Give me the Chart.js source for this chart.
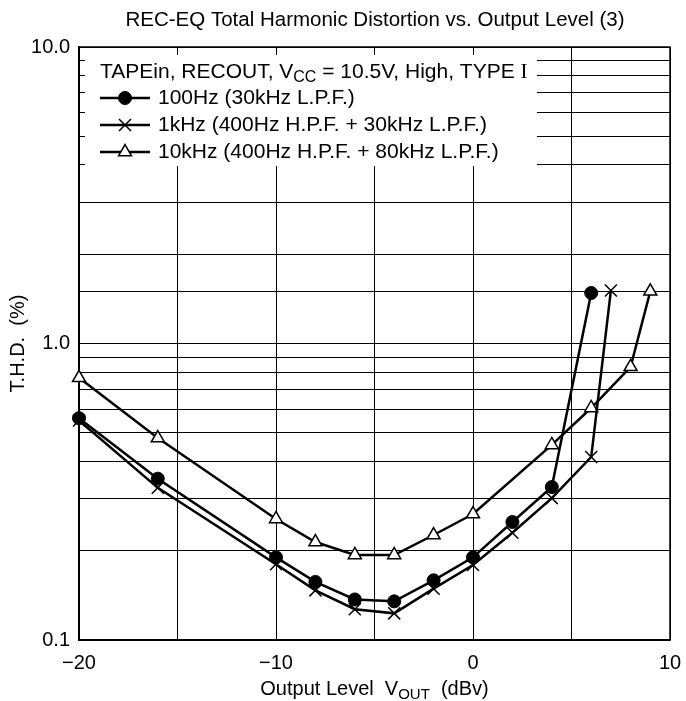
<!DOCTYPE html>
<html>
<head>
<meta charset="utf-8">
<script src="https://cdn.jsdelivr.net/npm/chart.js@4"></script>
<style>
  html, body { margin: 0; padding: 0; background: #fff; }
  #wrap { width: 686px; height: 701px; }
</style>
</head>
<body>
<div id="wrap"><canvas id="thdChart" width="686" height="701"></canvas></div>
<script>
// output level (dBv) and THD (%)
const levels100 = [-20, -16, -10, -8, -6, -4, -2, 0, 2, 4, 6];
const thd100 = [0.56, 0.35, 0.19, 0.157, 0.137, 0.135, 0.159, 0.19, 0.25, 0.328, 1.48];

const levels1k = [-20, -16, -10, -8, -6, -4, -2, 0, 2, 4, 6, 7];
const thd1k = [0.55, 0.326, 0.18, 0.147, 0.127, 0.123, 0.149, 0.179, 0.23, 0.301, 0.414, 1.51];

const levels10k = [-20, -16, -10, -8, -6, -4, -2, 0, 4, 6, 8, 9];
const thd10k = [0.766, 0.48, 0.256, 0.214, 0.1935, 0.1935, 0.226, 0.266, 0.455, 0.606, 0.834, 1.5];

const seriesNames = ['100Hz (30kHz L.P.F.)', '1kHz (400Hz H.P.F. + 30kHz L.P.F.)', '10kHz (400Hz H.P.F. + 80kHz L.P.F.)'];
const xLabelTicks = [-20, -10, 0, 10];
const yLabelTicks = [0.1, 1, 10];

const FONT = 'Liberation Sans, Arial, sans-serif';

function toPoints(xs, ys) {
  return xs.map((x, i) => ({ x: x, y: ys[i] }));
}

const markerStyles = [
  { pointStyle: 'circle', radius: 6.5, bg: '#000', bw: 1 },
  { pointStyle: 'crossRot', radius: 8.5, bg: '#000', bw: 1.5 },
  { pointStyle: 'triangle', radius: 7.5, bg: '#fff', bw: 1.5 }
];

function makeDataset(i, xs, ys) {
  const m = markerStyles[i];
  return {
    label: seriesNames[i],
    data: toPoints(xs, ys),
    borderColor: '#000',
    borderWidth: 2.5,
    pointStyle: m.pointStyle,
    pointRadius: m.radius,
    pointBackgroundColor: m.bg,
    pointBorderColor: '#000',
    pointBorderWidth: m.bw,
    tension: 0,
    clip: false
  };
}

// draws text runs, subscript runs are smaller and lowered
function drawRuns(ctx, runs, x, y, size) {
  runs.forEach(r => {
    ctx.font = (r[1] ? Math.round(size * 0.75) + 'px ' : size + 'px ') + (r[2] || FONT);
    ctx.fillText(r[0], x, y + (r[1] ? 6 : 0));
    x += ctx.measureText(r[0]).width;
  });
  return x;
}

function runsWidth(ctx, runs, size) {
  let w = 0;
  runs.forEach(r => {
    ctx.font = (r[1] ? Math.round(size * 0.75) + 'px ' : size + 'px ') + (r[2] || FONT);
    w += ctx.measureText(r[0]).width;
  });
  return w;
}

// legend box, frame, titles
const decorPlugin = {
  id: 'decor',
  beforeDatasetsDraw(chart) {
    const ctx = chart.ctx;
    const a = chart.chartArea;
    ctx.save();
    ctx.fillStyle = '#fff';
    ctx.fillRect(a.left + 6, a.top + 8, 452, 111);

    ctx.fillStyle = '#000';
    ctx.textBaseline = 'middle';
    ctx.textAlign = 'left';
    const y0 = a.top + 25;
    drawRuns(ctx, [['TAPEin, RECOUT, V', 0], ['CC', 1], [' = 10.5V, High, TYPE ', 0], ['I', 0, 'Liberation Serif, serif']], a.left + 21, y0, 21);

    ctx.font = '21px ' + FONT;
    seriesNames.forEach((name, i) => {
      const yy = y0 + 26 + i * 27;
      ctx.strokeStyle = '#000';
      ctx.lineWidth = 2.5;
      ctx.beginPath();
      ctx.moveTo(a.left + 21, yy);
      ctx.lineTo(a.left + 71, yy);
      ctx.stroke();
      const m = markerStyles[i];
      ctx.fillStyle = m.bg;
      ctx.lineWidth = m.bw;
      Chart.helpers.drawPoint(ctx, { pointStyle: m.pointStyle, radius: m.radius, borderWidth: m.bw }, a.left + 46, yy);
      ctx.fillStyle = '#000';
      ctx.fillText(name, a.left + 79, yy);
    });

    ctx.strokeStyle = '#000';
    ctx.lineWidth = 1.5;
    ctx.strokeRect(a.left, a.top, a.right - a.left, a.bottom - a.top);
    ctx.restore();
  },
  afterDraw(chart) {
    const ctx = chart.ctx;
    const a = chart.chartArea;
    ctx.save();
    ctx.fillStyle = '#000';
    ctx.textBaseline = 'middle';
    ctx.textAlign = 'center';
    ctx.font = '20.5px ' + FONT;
    ctx.fillText('REC-EQ Total Harmonic Distortion vs. Output Level (3)', 375, 20);

    // x axis title with subscript
    const runs = [['Output Level  V', 0], ['OUT', 1], ['  (dBv)', 0]];
    ctx.textAlign = 'left';
    drawRuns(ctx, runs, (a.left + a.right) / 2 - runsWidth(ctx, runs, 20) / 2, 689, 20);

    ctx.translate(18, (a.top + a.bottom) / 2);
    ctx.rotate(-Math.PI / 2);
    ctx.textAlign = 'center';
    ctx.font = '20px ' + FONT;
    ctx.fillText('T.H.D.  (%)', 0, 0);
    ctx.restore();
  }
};

new Chart(document.getElementById('thdChart'), {
  type: 'line',
  data: {
    datasets: [
      makeDataset(0, levels100, thd100),
      makeDataset(1, levels1k, thd1k),
      makeDataset(2, levels10k, thd10k)
    ]
  },
  options: {
    responsive: false,
    animation: false,
    layout: { padding: { top: 47, right: 16, left: 0, bottom: 0 } },
    plugins: {
      legend: { display: false },
      tooltip: { enabled: false }
    },
    scales: {
      x: {
        type: 'linear',
        min: -20,
        max: 10,
        afterFit: s => { s.height = 61; s.paddingLeft = 0; s.paddingRight = 0; },
        border: { color: '#000', width: 1.5 },
        grid: { color: '#000', lineWidth: 1, drawTicks: false },
        ticks: {
          stepSize: 5,
          autoSkip: false,
          maxRotation: 0,
          padding: 11,
          color: '#000',
          font: { family: FONT, size: 20 },
          callback: v => xLabelTicks.includes(v) ? String(v).replace('-', '\u2212') : ''
        }
      },
      y: {
        type: 'logarithmic',
        min: 0.1,
        max: 10,
        afterFit: s => { s.width = 79; s.paddingTop = 0; s.paddingBottom = 0; },
        border: { color: '#000', width: 1.5 },
        grid: { color: '#000', lineWidth: 1, drawTicks: false },
        ticks: {
          autoSkip: false,
          padding: 9,
          color: '#000',
          font: { family: FONT, size: 20 },
          callback: v => yLabelTicks.some(t => Math.abs(t - v) < 1e-9) ? v.toFixed(1) : ''
        }
      }
    }
  },
  plugins: [decorPlugin]
});
</script>
</body>
</html>
